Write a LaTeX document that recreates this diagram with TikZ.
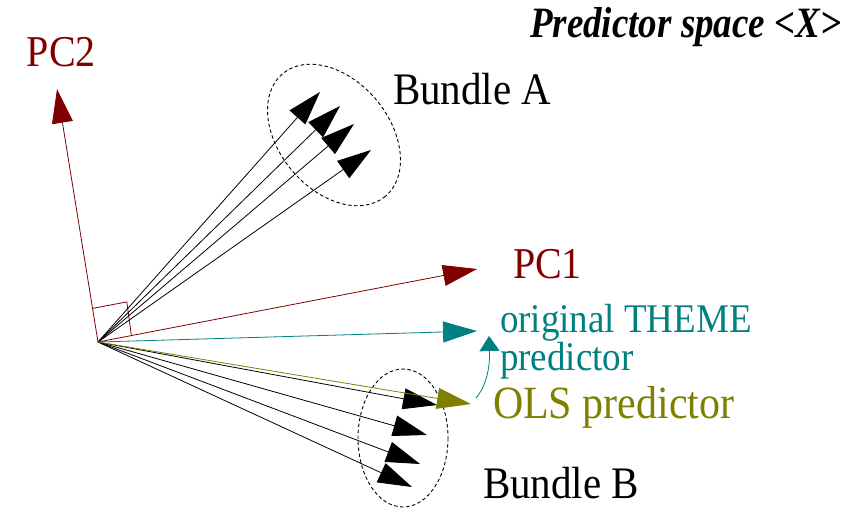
\documentclass[tikz,border=0pt]{standalone}
\usepackage{fontspec}
\setmainfont{Liberation Serif}
\usetikzlibrary{arrows.meta}
\definecolor{pcred}{HTML}{800000}
\definecolor{theme}{HTML}{008080}
\definecolor{ols}{HTML}{808000}
\newcommand{\vs}[2][1.1]{\scalebox{1}[#1]{#2}}
\tikzset{
  vec/.style={line width=0.8pt, -{Triangle[length=34pt,width=21pt]}},
  bundlebox/.style={draw=black, line width=0.9pt, dash pattern=on 3.5pt off 2.5pt},
  lbl/.style={anchor=base west, inner sep=0pt, outer sep=0pt},
}
\begin{document}
\begin{tikzpicture}[x=1pt,y=-1pt]
\useasboundingbox (0,0) rectangle (859,507);
\coordinate (O) at (98,342);
\coordinate (pc2tip) at (57,89);
\coordinate (pc1tip) at (477,269);
\coordinate (thtip) at (477,331);
\coordinate (olstip) at (471,404);
\coordinate (a1) at (320,92);
\coordinate (a2) at (340,106);
\coordinate (a3) at (354,124);
\coordinate (a4) at (371,150);
\coordinate (b1) at (437,405);
\coordinate (b2) at (427,435);
\coordinate (b3) at (420,464);
\coordinate (b4) at (412,487);
\coordinate (sq1) at (92.6,308.4);
\coordinate (sq2) at (126.8,301.9);
\coordinate (sq3) at (131.4,335.6);
\coordinate (cstart) at (476,398);
\coordinate (cend) at (489,336);

% bundles (dashed ellipses)
\draw[bundlebox] (334,135) circle[x radius=80, y radius=55, rotate=-50];
\draw[bundlebox] (403,438) circle[x radius=45, y radius=69];

% right angle mark
\draw[pcred, line width=0.8pt] (sq1) -- (sq2) -- (sq3);

% black vectors
\foreach \t in {a1,a2,a3,a4,b1,b2,b3,b4}
  \draw[vec, black] (O) -- (\t);

% principal components
\draw[vec, pcred] (O) -- (pc2tip);
\draw[vec, pcred] (O) -- (pc1tip);

% predictors
\draw[vec, ols] (O) -- (olstip);
\draw[vec, theme] (O) -- (thtip);
\draw[theme, line width=0.8pt, -{Triangle[length=15pt,width=20pt]}]
  (cstart) .. controls (487,385) and (490,366) .. (cend);

% labels
\node[lbl, font=\fontsize{37}{40}\selectfont\bfseries\itshape] (title) at (530,37) {\vs[1.17]{Predictor space <X>}};
\node[lbl, pcred, font=\fontsize{40}{44}\selectfont] (pc2) at (27,66) {\vs{PC2}};
\node[lbl, pcred, font=\fontsize{40}{44}\selectfont] (pc1) at (513,278) {\vs{PC1}};
\node[lbl, font=\fontsize{41}{44}\selectfont] (bA) at (393,104) {\vs{Bundle A}};
\node[lbl, font=\fontsize{41}{44}\selectfont] (bB) at (483,498) {\vs{Bundle B}};
\node[lbl, theme, font=\fontsize{37}{40}\selectfont] (th1) at (500,332) {\vs{original THEME}};
\node[lbl, theme, font=\fontsize{37}{40}\selectfont] (th2) at (500,370) {\vs{predictor}};
\node[lbl, ols, font=\fontsize{42}{46}\selectfont] (olsl) at (493,418) {\vs{OLS predictor}};
\end{tikzpicture}
\end{document}
